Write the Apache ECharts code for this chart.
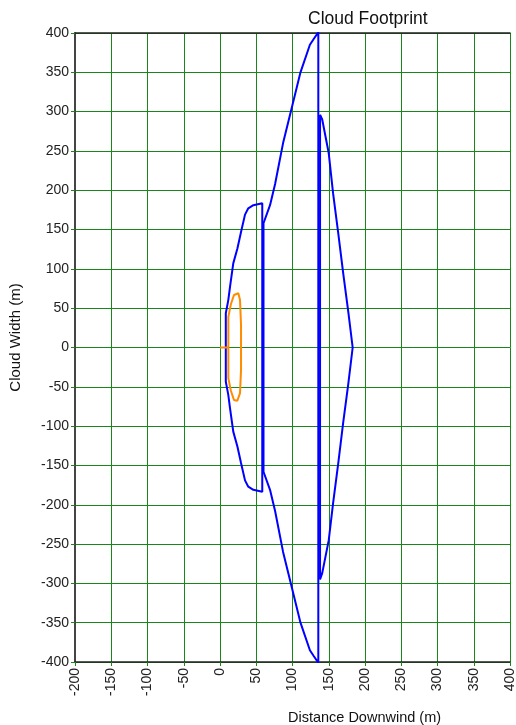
<!DOCTYPE html>
<html>
<head>
<meta charset="utf-8">
<script src="https://cdn.jsdelivr.net/npm/echarts@6/dist/echarts.min.js"></script>
<style>
  html, body { margin: 0; padding: 0; background: #fff; }
  #chart { width: 516px; height: 725px; }
</style>
</head>
<body>
<div id="chart"></div>
<script>
// contour outlines (x = distance downwind, y = cloud width)
var orangeX = [0, 11.5, 11.5, 15, 19.3, 25.3, 27.6, 29, 29, 27.6, 23.9, 19.3, 15, 11.5, 11.5];
var orangeY = [0, 0, 39, 55, 66.8, 69, 60.4, 28.6, -28.6, -58, -67.7, -66.8, -55, -39, 0];

var innerX = [8, 8, 11.4, 13.8, 18.3, 24, 29, 34.5, 39, 46, 58.3, 58.3, 46, 39, 34.5, 29, 24, 18.3, 13.8, 11.4, 8, 8];
var innerY = [0, 43.5, 60, 77, 107, 126, 147, 169, 177, 181, 183.5, -183.5, -181, -177, -169, -147, -126, -107, -77, -60, -43.5, 0];

var outerX = [60, 69, 76, 87, 99, 111, 124, 129, 135.6, 135.6, 129, 124, 111, 99, 87, 76, 69, 60, 60];
var outerY = [158, 181, 208, 260, 305, 350, 385, 392, 401, -401, -392, -385, -350, -305, -260, -208, -181, -158, 158];

var rightX = [138, 141, 150, 156, 163, 170, 177, 183, 177, 170, 163, 156, 150, 141, 138, 138];
var rightY = [296, 290, 247, 196, 146, 94, 45, 0, -46, -95, -148, -198, -245, -287, -295, 296];

var xTicks = { min: -200, max: 400, step: 50 };
var yTicks = { min: -400, max: 400, step: 50 };

function pairs(xs, ys) {
  return xs.map(function (x, i) { return [x, ys[i]]; });
}

var green = '#1a861a';
var font = 'Liberation Sans, Arial, sans-serif';

function contour(xs, ys, color) {
  return {
    type: 'line',
    data: pairs(xs, ys),
    showSymbol: false,
    symbol: 'none',
    lineStyle: { color: color, width: 2 },
    z: 3
  };
}

var chart = echarts.init(document.getElementById('chart'));

chart.setOption({
  animation: false,
  backgroundColor: '#fff',
  title: {
    text: 'Cloud Footprint',
    left: 303,
    top: 5,
    textStyle: { fontFamily: font, fontSize: 17.5, fontWeight: 'normal', color: '#111' }
  },
  grid: { left: 75, right: 6, top: 33, bottom: 63, outerBoundsMode: 'none', containLabel: false },
  xAxis: [{
    type: 'value',
    min: xTicks.min, max: xTicks.max, interval: xTicks.step,
    name: 'Distance Downwind (m)',
    nameLocation: 'middle',
    nameGap: 48,
    nameTextStyle: { fontFamily: font, fontSize: 14.5, color: '#111', padding: [0, 0, 0, 144] },
    axisLine: { onZero: false, lineStyle: { color: '#222', width: 1.5 } },
    axisTick: { show: true, length: 4, lineStyle: { color: green } },
    axisLabel: { rotate: 90, fontFamily: font, fontSize: 14, color: '#222', margin: 6 },
    splitLine: { show: true, lineStyle: { color: green, width: 1 } }
  }, {
    type: 'value',
    position: 'top',
    min: xTicks.min, max: xTicks.max,
    axisLine: { show: true, onZero: false, lineStyle: { color: '#222', width: 1.5 } },
    axisTick: { show: false },
    axisLabel: { show: false },
    splitLine: { show: false }
  }],
  yAxis: {
    type: 'value',
    min: yTicks.min, max: yTicks.max, interval: yTicks.step,
    name: 'Cloud Width (m)',
    nameLocation: 'middle',
    nameGap: 52,
    nameTextStyle: { fontFamily: font, fontSize: 15, color: '#111', padding: [0, 0, 0, 20] },
    axisLine: { show: true, onZero: false, lineStyle: { color: '#444', width: 2 } },
    axisTick: { show: true, length: 4, lineStyle: { color: green } },
    axisLabel: { fontFamily: font, fontSize: 14, color: '#222', margin: 6 },
    splitLine: { show: true, lineStyle: { color: green, width: 1 } }
  },
  series: [
    contour(outerX, outerY, '#0000ff'),
    contour(rightX, rightY, '#0000ff'),
    contour(innerX, innerY, '#0000ff'),
    contour(orangeX, orangeY, '#ff8c00')
  ]
});
</script>
</body>
</html>
